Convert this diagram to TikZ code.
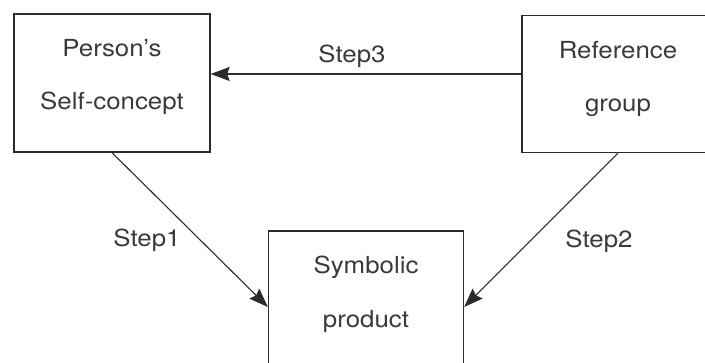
\documentclass[tikz,border=0pt]{standalone}
\usepackage{fontspec}
\setmainfont[FakeStretch=1.1]{TeX Gyre Heros}
\usetikzlibrary{arrows.meta}
\definecolor{ink}{HTML}{2B2B2B}
\definecolor{txt}{HTML}{3A3A3A}
\tikzset{
  box/.style={draw=ink, line width=1.3pt, rectangle, inner sep=0pt},
  word/.style={anchor=base, inner sep=0pt, text=txt,
               font=\fontsize{23.5}{28}\selectfont},
  arr/.style={draw=ink, line width=1.1pt,
              -{Stealth[length=19pt, width=14pt, inset=2.5pt]}},
}
\begin{document}
\begin{tikzpicture}[x=1pt, y=-1pt]
  \useasboundingbox (0,0) rectangle (705,363);
  \clip (0,0) rectangle (705,363);
  \fill[white] (0,0) rectangle (705,363);

  % the three boxes
  \node[box, minimum width=196pt, minimum height=138pt] (selfc)  at (112,83) {};
  \node[box, minimum width=192pt, minimum height=137pt] (refgrp) at (618,84) {};
  \node[box, minimum width=195pt, minimum height=152pt] (symb)   at (366,307) {};

  % box captions
  \node[word] (selfc1) at (112,57)  {Person's};
  \node[word] (selfc2) at (112,110) {Self-concept};
  \node[word] (refgrp1) at (618,59)  {Reference};
  \node[word] (refgrp2) at (618,112) {group};
  \node[word] (symb1) at (366,274) {Symbolic};
  \node[word] (symb2) at (366,328) {product};

  % influences
  \draw[arr] ([yshift=10pt]refgrp.west) -- ([yshift=10pt]refgrp.west -| selfc.east);
  \draw[arr] (selfc.south) -- (symb.west);
  \draw[arr] (refgrp.south) -- (symb.east);

  % step labels
  \node[word] (s3) at (352,63)  {Step3};
  \node[word] (s1) at (147,247) {Step1};
  \node[word] (s2) at (599,248) {Step2};
\end{tikzpicture}
\end{document}
